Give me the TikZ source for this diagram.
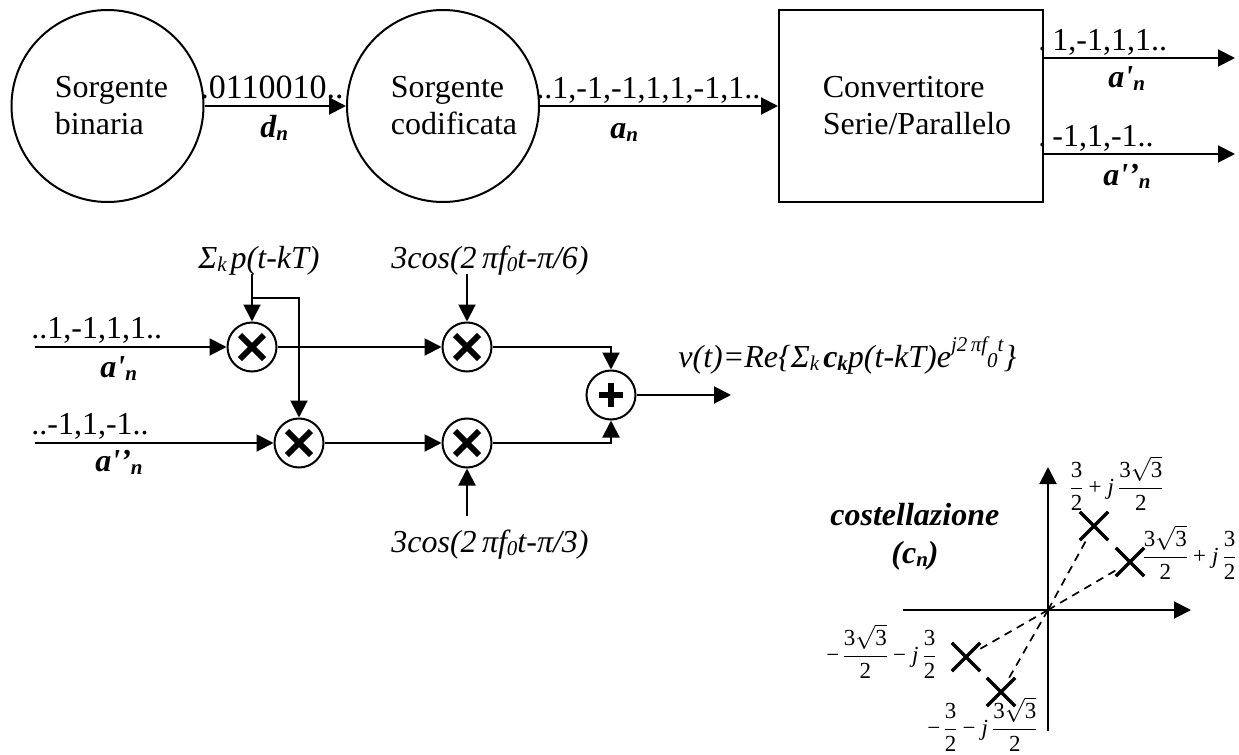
\documentclass[tikz,border=0pt]{standalone}
\usepackage{fontspec}
\setmainfont{Liberation Serif}
\usetikzlibrary{arrows.meta,shapes.misc}
\newcommand{\lowr}[1]{\raisebox{-1.6pt}{\fontsize{10.5}{10.5}\selectfont #1}}
\newcommand{\uppr}[1]{\raisebox{8pt}{\fontsize{10.5}{10.5}\selectfont #1}}
\newcommand{\smalltxt}[1]{{\fontsize{10.5}{10.5}\selectfont #1}}
\newcommand{\rt}{3\ensuremath{\sqrt{\mbox{3}}}}
\newcommand{\frcc}[2]{\ensuremath{\displaystyle\frac{\mbox{#1}}{\mbox{#2}}}}
\newcommand{\jj}{\mbox{\itshape j}}
\newcommand{\aone}{\textbf{\textit{a\textquotesingle\lowr{n}}}}
\newcommand{\atwo}{\textbf{\textit{a\textquotesingle’\lowr{n}}}}
\tikzset{
  lab/.style={inner sep=0pt,anchor=base west,font=\fontsize{16}{16}\selectfont},
  math/.style={inner sep=0pt,anchor=base west,font=\fontsize{11.5}{13}\selectfont},
  src/.style={draw,circle,line width=1pt,minimum size=96pt,inner sep=0pt,align=left,font=\fontsize{16}{18.5}\selectfont},
  conv/.style={draw,line width=1pt,minimum width=132pt,minimum height=96pt,align=left,inner sep=0pt,font=\fontsize{16}{18.5}\selectfont},
  oper/.style={draw,circle,line width=1pt,minimum size=24.5pt,inner sep=0pt},
  mult/.style={oper,path picture={
    \draw[line width=2.9pt] ([shift={(-12,-12)}]path picture bounding box.center) -- ([shift={(12,12)}]path picture bounding box.center);
    \draw[line width=2.9pt] ([shift={(-12,12)}]path picture bounding box.center) -- ([shift={(12,-12)}]path picture bounding box.center);}},
  summ/.style={oper,path picture={
    \draw[line width=3pt] ([shift={(-12,0)}]path picture bounding box.center) -- ([shift={(12,0)}]path picture bounding box.center);
    \draw[line width=3pt] ([shift={(0,-12)}]path picture bounding box.center) -- ([shift={(0,12)}]path picture bounding box.center);}},
  mark x/.style={draw,cross out,line width=1.7pt,minimum size=12.5pt,inner sep=0pt},
  conn/.style={line width=1pt,-{Triangle[length=8.5pt,width=8.5pt]}},
  dash line/.style={line width=.85pt,dash pattern=on 4pt off 3pt},
}
\begin{document}
\begin{tikzpicture}[x=0.5pt,y=-0.5pt]
\useasboundingbox (0,0) rectangle (1239,755);
% top row
\node[src] (s1) at (107.5,106) {\hspace*{4pt}Sorgente\\\hspace*{4pt}binaria};
\node[src] (s2) at (443,106) {\hspace*{11pt}Sorgente\\\hspace*{11pt}codificata};
\node[conv] (box) at (911,106) {\hspace*{6pt}Convertitore\\\hspace*{6pt}Serie/Parallelo};
\coordinate (o1) at (1235,58);
\coordinate (o2) at (1235,154);
\draw[conn] (s1) -- (s2);
\draw[conn] (s2) -- (box.west |- s2);
\draw[conn] (box.east |- o1) -- (o1);
\draw[conn] (box.east |- o2) -- (o2);
\node[lab,font=\fontsize{17}{17}\selectfont] (t1) at (200,98) {.0110010..};
\node[lab] (t2) at (260,137) {\textbf{\textit{d\lowr{n}}}};
\node[lab] (t3) at (536,98) {..1,-1,-1,1,1,-1,1..};
\node[lab] (t4) at (610,138) {\textbf{\textit{a\lowr{n}}}};
\node[lab] (t5) at (1038,50) {.\kern3pt 1,-1,1,1..};
\node[lab] (t6) at (1108,87) {\aone};
\node[lab] (t7) at (1038,146) {.\kern3pt-1,1,-1..};
\node[lab] (t8) at (1103,185) {\atwo};
% modulator
\node[mult] (m1) at (252,347) {};
\node[mult] (m2) at (299,443) {};
\node[mult] (m3) at (467,347) {};
\node[mult] (m4) at (467,443) {};
\node[summ] (sum) at (611,395) {};
\coordinate (i1) at (35,347);
\coordinate (i2) at (35,443);
\coordinate (c1) at (252,274);
\coordinate (br) at (252,298);
\coordinate (c2) at (467,274);
\coordinate (c3) at (467,516);
\coordinate (out) at (731,395);
\draw[conn] (i1) -- (m1);
\draw[conn] (i2) -- (m2);
\draw[conn] (c1) -- (m1);
\draw[conn] (br) -| (m2);
\draw[conn] (m1) -- (m3);
\draw[conn] (m2) -- (m4);
\draw[conn] (c2) -- (m3);
\draw[conn] (c3) -- (m4);
\draw[conn] (m3) -| (sum);
\draw[conn] (m4) -| (sum);
\draw[conn] (sum) -- (out);
\node[lab] (l1) at (31,338) {..1,-1,1,1..};
\node[lab] (l2) at (100,377) {\aone};
\node[lab] (l3) at (31,434) {..-1,1,-1..};
\node[lab] (l4) at (95,471) {\atwo};
\node[lab] (l5) at (198,268) {\textit{Σ\lowr{k}\kern2pt p(t-kT)}};
\node[lab] (l6) at (391,268) {\textit{3cos(2\,πf\lowr{0}t-π/6)}};
\node[lab] (l7) at (391,552) {\textit{3cos(2\,πf\lowr{0}t-π/3)}};
\node[lab] (l8) at (678,367) {\textit{v(t)=Re\{Σ\lowr{k}\kern2pt\textbf{c\lowr{k}}p(t-kT)e\uppr{j2\,πf}\smalltxt{0}\uppr{t}\}}};
% constellation
\coordinate (org) at (1048,610);
\coordinate (yt) at (1048,467);
\coordinate (yb) at (1048,731);
\coordinate (xl) at (903,610);
\coordinate (xr) at (1191,610);
\draw[conn] (yb) -- (yt);
\draw[conn] (xl) -- (xr);
\node[mark x] (p1) at (1094,526) {};
\node[mark x] (p2) at (1130,562) {};
\node[mark x] (p3) at (966,657) {};
\node[mark x] (p4) at (1001,692) {};
\draw[dash line] (org) -- (p1);
\draw[dash line] (org) -- (p2);
\draw[dash line] (org) -- (p3);
\draw[dash line] (org) -- (p4);
\node[lab,font=\fontsize{16}{16}\selectfont\bfseries\itshape] (k1) at (830,525) {costellazione};
\node[lab,font=\fontsize{16}{16}\selectfont\bfseries\itshape] (k2) at (891,563) {(c\lowr{n})};
\node[math] (f1) at (1068,494) {\frcc{3}{2}\kern2pt+\kern3pt\jj\kern1.5pt\frcc{\rt}{2}};
\node[math] (f2) at (1141,563) {\frcc{\rt}{2}\kern2pt+\kern3pt\jj\kern1.5pt\frcc{3}{2}};
\node[math] (f3) at (826,662) {−\kern1pt\frcc{\rt}{2}\kern2pt−\kern3pt\jj\kern1.5pt\frcc{3}{2}};
\node[math] (f4) at (927,735) {−\kern1pt\frcc{3}{2}\kern2pt−\kern3pt\jj\kern1.5pt\frcc{\rt}{2}};
\end{tikzpicture}
\end{document}
